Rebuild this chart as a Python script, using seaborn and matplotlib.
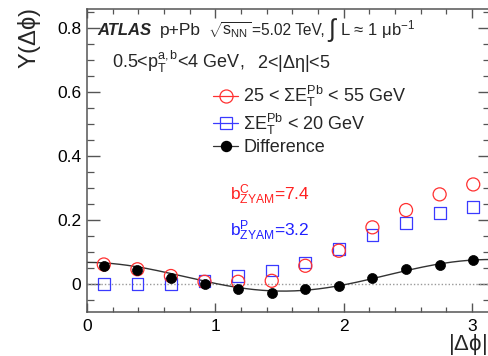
import numpy as np
import pandas as pd
import matplotlib
matplotlib.use("Agg")
import matplotlib.pyplot as plt
from matplotlib.lines import Line2D
from matplotlib.ticker import MultipleLocator, FuncFormatter
import seaborn as sns

# |dphi| bin centres (12 bins over 0..pi)
dphi = [0.131, 0.393, 0.654, 0.916, 1.178, 1.440, 1.702, 1.963, 2.225, 2.487, 2.749, 3.011]
# per-trigger yields
y_central = [0.060, 0.045, 0.024, 0.006, 0.006, 0.009, 0.056, 0.103, 0.176, 0.230, 0.279, 0.310]
y_peripheral = [0.000, 0.000, 0.000, 0.009, 0.024, 0.041, 0.066, 0.108, 0.152, 0.189, 0.220, 0.239]
y_difference = [0.056, 0.043, 0.017, -0.002, -0.018, -0.030, -0.016, -0.006, 0.018, 0.045, 0.058, 0.073]
# Fourier fit to the difference: a0 + a1 cos + a2 cos2 + a3 cos3
fit_coeffs = [0.024, -0.0053, 0.047, 0.0008]

label_central = r"25 < $\Sigma E_{T}^{Pb}$ < 55 GeV"
label_peripheral = r"$\Sigma E_{T}^{Pb}$ < 20 GeV"
label_difference = "Difference"

sns.set_style("ticks")
plt.rcParams["font.family"] = ["Liberation Sans", "DejaVu Sans"]
plt.rcParams["mathtext.fontset"] = "custom"
plt.rcParams["mathtext.rm"] = "Liberation Sans"
plt.rcParams["mathtext.it"] = "Liberation Sans"
plt.rcParams["mathtext.sf"] = "Liberation Sans"
plt.rcParams["mathtext.bf"] = "Liberation Sans:bold"
plt.rcParams["mathtext.default"] = "rm"

W, H = 488, 356
fig = plt.figure(figsize=(W / 100, H / 100), dpi=100)
ax_l, ax_r, ax_t, ax_b = 87, 490, 9, 311.7
ax = fig.add_axes([ax_l / W, (H - ax_b) / H, (ax_r - ax_l) / W, (ax_b - ax_t) / H])

df = pd.DataFrame({"dphi": dphi, "central": y_central,
                   "peripheral": y_peripheral, "difference": y_difference})

# fit curve and zero line
xs = np.linspace(0, np.pi, 300)
fit = sum(c * np.cos(k * xs) for k, c in enumerate(fit_coeffs))
ax.plot([0, np.pi], [0, 0], color="#999999", lw=1.0, ls=(0, (1, 1.5)), zorder=1)
sns.lineplot(x=xs, y=fit, ax=ax, color="#333333", lw=1.0, zorder=2)

sns.scatterplot(data=df, x="dphi", y="peripheral", ax=ax, marker="s", s=72,
                facecolors="none", edgecolors="#3a3aff", linewidths=0.9, zorder=3)
sns.scatterplot(data=df, x="dphi", y="central", ax=ax, marker="o", s=88,
                facecolors="none", edgecolors="#ff3030", linewidths=0.9, zorder=4)
sns.scatterplot(data=df, x="dphi", y="difference", ax=ax, marker="o", s=52,
                color="black", edgecolor="black", linewidth=0.5, zorder=5)

ax.set_xlim(0, np.pi)
ax.set_ylim(-0.0875, 0.858)
ax.xaxis.set_major_locator(MultipleLocator(1))
ax.xaxis.set_minor_locator(MultipleLocator(0.2))
ax.yaxis.set_major_locator(MultipleLocator(0.2))
ax.yaxis.set_minor_locator(MultipleLocator(0.05))
ax.yaxis.set_major_formatter(FuncFormatter(lambda v, p: "0" if abs(v) < 1e-9 else f"{v:.1f}"))

spine_c = "#555555"
for s in ax.spines.values():
    s.set_color(spine_c)
    s.set_linewidth(1.1)
ax.tick_params(axis="both", which="both", direction="in", top=True, right=True,
               color=spine_c, labelsize=12.5, labelcolor="black")
ax.tick_params(axis="x", which="major", length=6.5, width=1.0, pad=5)
ax.tick_params(axis="x", which="minor", length=3.6, width=0.9)
ax.tick_params(axis="y", which="major", length=9, width=1.0, pad=4)
ax.tick_params(axis="y", which="minor", length=4.8, width=0.9)

ax.set_xlabel(r"|$\Delta\phi$|", fontsize=16, loc="right")
ax.xaxis.set_label_coords((487 - ax_l) / (ax_r - ax_l), -0.068)
ax.set_ylabel(r"Y($\Delta\phi$)", fontsize=17, loc="top")
ax.yaxis.set_label_coords(-0.109, 1.003)

def ax_xy(px, py):
    return (px - ax_l) / (ax_r - ax_l), (ax_b - py) / (ax_b - ax_t)

renderer = fig.canvas.get_renderer()

def text_run(px, py, pieces):
    """Place text pieces one after another on a shared baseline (pixel coords)."""
    x = px
    for s, gap, dy, kw in pieces:
        x += gap
        t = ax.text(*ax_xy(x, py + dy), s, transform=ax.transAxes,
                    va="baseline", ha="left", **kw)
        x = t.get_window_extent(renderer).x1

# header lines
text_run(97, 35, [
    ("ATLAS", 0, 0, dict(fontsize=12, fontweight="bold", fontstyle="italic")),
    ("p+Pb", 9, 0, dict(fontsize=12.5)),
    (r"$\sqrt{s_{NN}}$", 7, 0, dict(fontsize=11.5)),
    ("=5.02 TeV,", 0.5, 0, dict(fontsize=11.2)),
    (r"$\int$", 2, 2, dict(fontsize=18)),
    ("L ≈ 1 μb$^{-1}$", 2, 0, dict(fontsize=12)),
])
text_run(112, 68, [(r"0.5<p$_{T}^{a,b}$<4 GeV,", 0, 0, dict(fontsize=13))])
text_run(257, 68, [(r"2<|$\Delta\eta$|<5", 0, 0, dict(fontsize=13))])

ax.text(*ax_xy(230, 195), r"b$^{C}_{ZYAM}$=7.4", fontsize=12.5, color="#ff2020",
        transform=ax.transAxes, va="center", ha="left")
ax.text(*ax_xy(230, 231), r"b$^{P}_{ZYAM}$=3.2", fontsize=12.5, color="#2020ff",
        transform=ax.transAxes, va="center", ha="left")

handles = [
    Line2D([], [], color="#ff3030", lw=0.9, marker="o", ms=9.4, mfc="none", mec="#ff3030", mew=0.9),
    Line2D([], [], color="#3a3aff", lw=0.9, marker="s", ms=8.5, mfc="none", mec="#3a3aff", mew=0.9),
    Line2D([], [], color="#333333", lw=0.9, marker="o", ms=7.2, mfc="black", mec="black"),
]
ax.legend(handles, [label_central, label_peripheral, label_difference],
          loc="upper left", bbox_to_anchor=ax_xy(213, 84), frameon=False,
          fontsize=13, handlelength=1.4, handletextpad=0.28, labelspacing=0.14,
          borderpad=0, borderaxespad=0)

fig.savefig("out.png", dpi=100)
